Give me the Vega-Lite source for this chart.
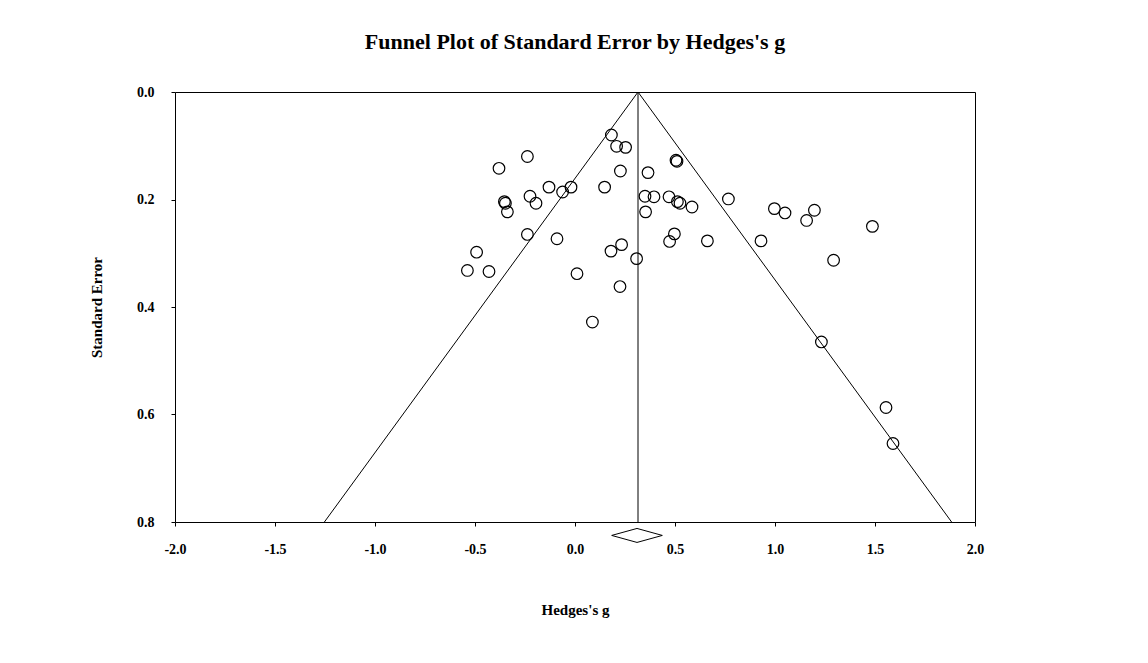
{
  "$schema": "https://vega.github.io/schema/vega-lite/v6.json",
  "autosize": {"type": "none"},
  "width": 800,
  "height": 430,
  "padding": {"left": 175, "top": 92, "right": 173, "bottom": 141},
  "background": "white",
  "title": {
    "text": "Funnel Plot of Standard Error by Hedges's g",
    "font": "Liberation Serif",
    "fontSize": 22,
    "fontWeight": "bold",
    "color": "black",
    "anchor": "middle",
    "offset": 31
  },
  "datasets": {
    "studies": [
      {"g": 0.182, "se": 0.080},
      {"g": 0.208, "se": 0.101},
      {"g": 0.253, "se": 0.103},
      {"g": -0.238, "se": 0.120},
      {"g": -0.380, "se": 0.142},
      {"g": 0.227, "se": 0.147},
      {"g": -0.130, "se": 0.177},
      {"g": -0.020, "se": 0.177},
      {"g": -0.062, "se": 0.186},
      {"g": 0.148, "se": 0.177},
      {"g": -0.225, "se": 0.194},
      {"g": -0.195, "se": 0.207},
      {"g": -0.353, "se": 0.204},
      {"g": -0.348, "se": 0.207},
      {"g": -0.338, "se": 0.223},
      {"g": -0.238, "se": 0.265},
      {"g": -0.090, "se": 0.273},
      {"g": 0.505, "se": 0.127},
      {"g": 0.510, "se": 0.129},
      {"g": 0.365, "se": 0.150},
      {"g": 0.350, "se": 0.194},
      {"g": 0.395, "se": 0.195},
      {"g": 0.470, "se": 0.195},
      {"g": 0.512, "se": 0.204},
      {"g": 0.525, "se": 0.207},
      {"g": 0.585, "se": 0.214},
      {"g": 0.353, "se": 0.223},
      {"g": 0.767, "se": 0.199},
      {"g": 0.997, "se": 0.217},
      {"g": 1.050, "se": 0.225},
      {"g": 1.197, "se": 0.220},
      {"g": 1.158, "se": 0.239},
      {"g": 1.487, "se": 0.250},
      {"g": 0.497, "se": 0.264},
      {"g": 0.473, "se": 0.278},
      {"g": 0.662, "se": 0.277},
      {"g": 0.930, "se": 0.277},
      {"g": 1.293, "se": 0.313},
      {"g": 1.232, "se": 0.465},
      {"g": 1.555, "se": 0.587},
      {"g": 1.590, "se": 0.654},
      {"g": -0.492, "se": 0.298},
      {"g": -0.538, "se": 0.332},
      {"g": -0.430, "se": 0.334},
      {"g": 0.180, "se": 0.296},
      {"g": 0.233, "se": 0.284},
      {"g": 0.010, "se": 0.338},
      {"g": 0.225, "se": 0.362},
      {"g": 0.087, "se": 0.428},
      {"g": 0.308, "se": 0.310}
    ],
    "funnel": [
      {"line": "left", "i": 0, "g": 0.315, "se": 0},
      {"line": "left", "i": 1, "g": -1.253, "se": 0.8},
      {"line": "right", "i": 0, "g": 0.315, "se": 0},
      {"line": "right", "i": 1, "g": 1.883, "se": 0.8},
      {"line": "center", "i": 0, "g": 0.315, "se": 0},
      {"line": "center", "i": 1, "g": 0.315, "se": 0.8}
    ],
    "diamond": [
      {"i": 0, "g": 0.1835, "se": 0.825},
      {"i": 1, "g": 0.31, "se": 0.812},
      {"i": 2, "g": 0.4365, "se": 0.825},
      {"i": 3, "g": 0.31, "se": 0.838},
      {"i": 4, "g": 0.1835, "se": 0.825}
    ]
  },
  "encoding": {
    "x": {
      "field": "g",
      "type": "quantitative",
      "scale": {"domain": [-2, 2], "nice": false, "zero": false},
      "axis": {
        "title": "Hedges's g",
        "values": [-2, -1.5, -1, -0.5, 0, 0.5, 1, 1.5, 2],
        "labelExpr": "(datum.value < 0 ? '-' : '') + format(abs(datum.value), '.1f')",
        "labelFlush": false,
        "labelPadding": 16,
        "titlePadding": 46,
        "tickSize": 4
      }
    },
    "y": {
      "field": "se",
      "type": "quantitative",
      "scale": {"domain": [0, 0.8], "nice": false, "zero": false, "reverse": true},
      "axis": {
        "title": "Standard Error",
        "values": [0, 0.2, 0.4, 0.6, 0.8],
        "format": ".1f",
        "labelPadding": 17,
        "titlePadding": 32,
        "tickSize": 4
      }
    }
  },
  "layer": [
    {
      "data": {"name": "funnel"},
      "mark": {"type": "line", "color": "black", "strokeWidth": 1, "clip": false},
      "encoding": {
        "detail": {"field": "line", "type": "nominal"},
        "order": {"field": "i", "type": "quantitative"}
      }
    },
    {
      "data": {"name": "diamond"},
      "mark": {"type": "line", "color": "black", "strokeWidth": 1, "clip": false},
      "encoding": {
        "order": {"field": "i", "type": "quantitative"}
      }
    },
    {
      "data": {"name": "studies"},
      "mark": {"type": "point", "shape": "circle", "filled": false, "stroke": "black", "strokeWidth": 1.2, "size": 135, "opacity": 1}
    }
  ],
  "config": {
    "view": {"stroke": "black", "strokeWidth": 1},
    "axis": {
      "domain": false,
      "grid": false,
      "tickColor": "black",
      "labelFont": "Liberation Serif",
      "labelFontWeight": "bold",
      "labelFontSize": 14,
      "labelColor": "black",
      "titleFont": "Liberation Serif",
      "titleFontWeight": "bold",
      "titleFontSize": 15,
      "titleColor": "black"
    }
  }
}
